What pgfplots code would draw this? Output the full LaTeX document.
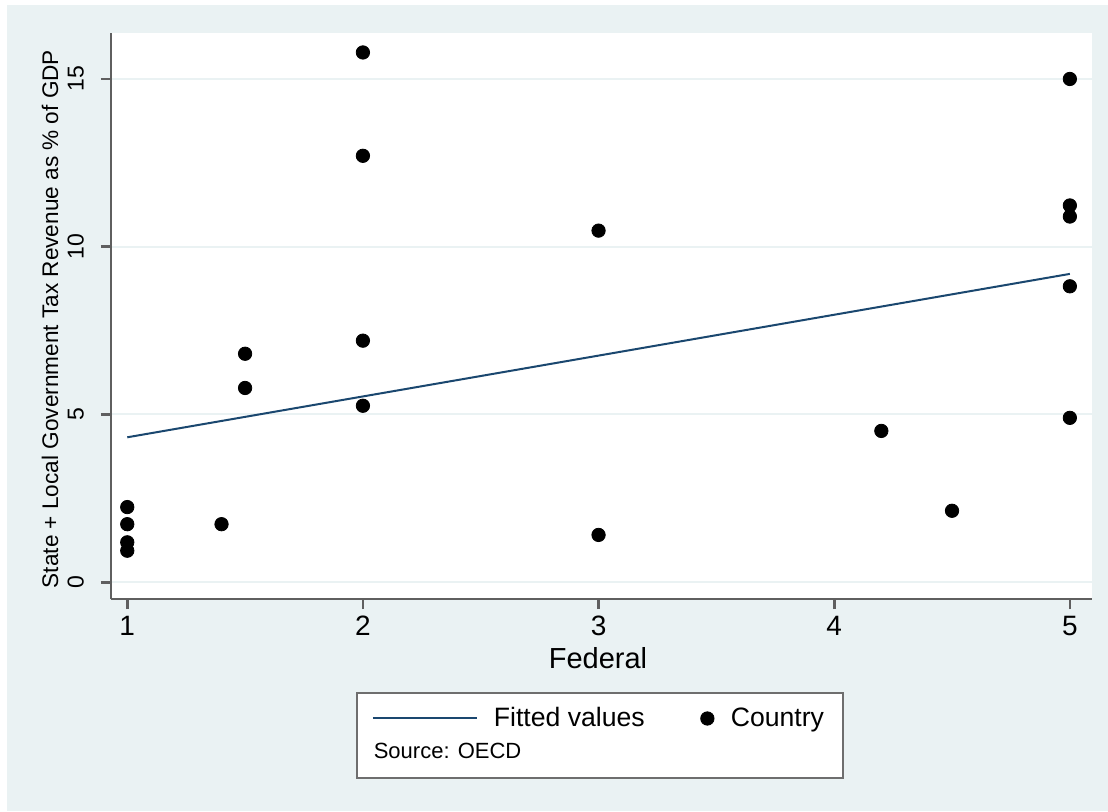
\documentclass[border=0pt]{standalone}
\usepackage{pgfplots}
\pgfplotsset{compat=1.18}
\usepackage{fontspec}
\setmainfont{Liberation Sans}
\definecolor{bgcol}{HTML}{EAF2F3}
\definecolor{gridcol}{HTML}{EAF2F3}
\definecolor{axcol}{HTML}{5F5F5F}
\definecolor{fitcol}{HTML}{1A476F}
\definecolor{boxcol}{HTML}{6E6E6E}
\pgfplotsset{
  fitleg/.style={legend image code/.code={\draw[##1] (0pt,0pt) -- (52pt,0pt);}},
  dotleg/.style={legend image code/.code={\draw[##1] plot coordinates {(3.35pt,0pt)};}},
}
\begin{document}
\begin{tikzpicture}
\useasboundingbox (-55.5pt,-106pt) rectangle (498.5pt,299.5pt);
\fill[bgcol] (-52pt,-106pt) rectangle (498.5pt,297pt);
\draw[boxcol, line width=1pt, fill=white] (123pt,-47pt) rectangle (366pt,-89.5pt);
\begin{axis}[
  scale only axis, width=490.5pt, height=283pt,
  xmin=0.931, xmax=5.094, ymin=-0.5, ymax=16.37,
  axis background/.style={fill=white},
  axis x line*=bottom, axis y line*=left,
  axis line style={axcol, line width=1.3pt},
  xtick={1,2,3,4,5}, ytick={0,5,10,15},
  tick align=outside, major tick length=5pt,
  tick style={axcol, line width=1.3pt},
  ymajorgrids, grid style={gridcol, line width=1pt},
  /pgf/number format/assume math mode=true,
  xticklabel style={font=\fontsize{14}{16}\selectfont},
  yticklabel style={font=\fontsize{11.5}{13}\selectfont, rotate=90, anchor=south, yshift=5pt},
  xlabel={Federal},
  ylabel={State + Local Government Tax Revenue as \% of GDP},
  xlabel style={font=\fontsize{14.5}{17}\selectfont, at={(axis description cs:0.4964,-0.1042)}, anchor=center},
  ylabel style={font=\fontsize{11.3}{13}\selectfont, at={(axis description cs:-0.0622,0.4947)}, anchor=center},
  clip=false,
  legend columns=2,
  legend cell align=left,
  legend style={at={(axis description cs:0.2655,-0.2111)}, anchor=west,
    draw=none, fill=none, inner sep=0pt,
    font=\fontsize{13.3}{15}\selectfont,
    /tikz/column 1/.style={column sep=6pt},
    /tikz/column 2/.style={column sep=26pt},
    /tikz/column 3/.style={column sep=6.4pt}},
]
\addplot[fitcol, line width=1pt, fitleg]
  coordinates {(1,4.32) (5,9.19)};
\addlegendentry{Fitted values}
\addplot[only marks, mark=*, mark size=3.35pt, black, mark options={fill=black, draw=black}, dotleg]
  coordinates {
  (1,2.24) (1,1.73) (1,1.19) (1,0.94)
  (1.4,1.73)
  (1.5,6.81) (1.5,5.79)
  (2,15.79) (2,12.71) (2,7.20) (2,5.26)
  (3,10.48) (3,1.41)
  (4.2,4.51)
  (4.5,2.13)
  (5,15.0) (5,11.23) (5,10.90) (5,8.82) (5,4.90)
  };
\addlegendentry{Country}
\end{axis}
\node[anchor=west, inner sep=0pt, font=\fontsize{11}{13}\selectfont] at (131.2pt,-75.8pt) {Source: OECD};
\end{tikzpicture}
\end{document}
